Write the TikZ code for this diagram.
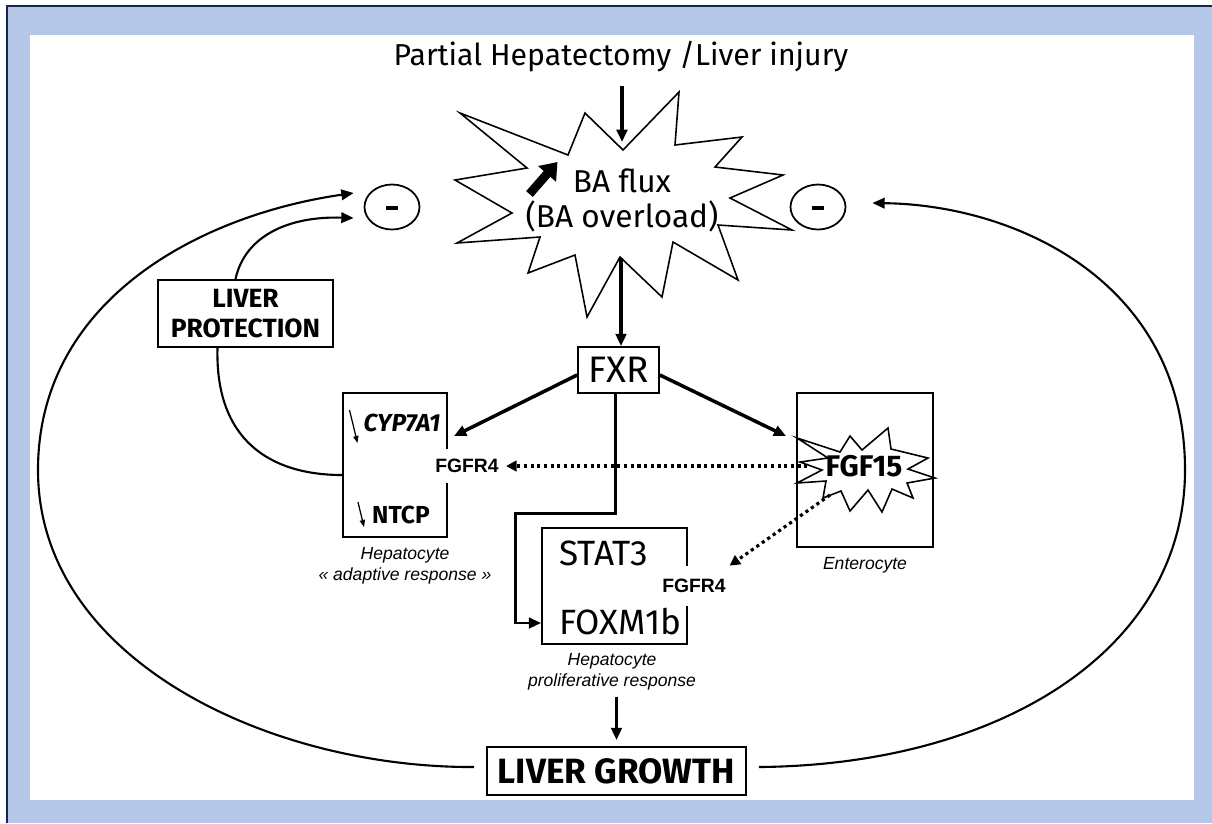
\documentclass[tikz,border=0pt]{standalone}
\usepackage{fontspec}
\setmainfont{Fira Sans}
\newfontfamily\arialf{Liberation Sans}
\usetikzlibrary{arrows.meta,calc,shapes.geometric}
\definecolor{frameblue}{RGB}{180,199,231}
\definecolor{navy}{RGB}{25,35,80}
\begin{document}
\begin{tikzpicture}[x=0.02cm,y=-0.02cm,
  conn/.style={line width=2pt,-{Triangle[length=7pt,width=6pt]}},
  box/.style={draw,line width=1pt,inner sep=0pt,fill=white},
  loopline/.style={line width=1.2pt},
  looparrow/.style={line width=1.2pt,-{Triangle[length=7pt,width=6pt]}},
  dotarrow/.style={line width=1.8pt,dash pattern=on 1.8pt off 2pt,-{Triangle[length=6pt,width=6pt]}},
  ital/.style={font=\arialf\itshape\fontsize{10}{12}\selectfont,align=center},
  recep/.style={font=\arialf\bfseries\fontsize{11}{13}\selectfont,fill=white,inner xsep=2pt},
  big/.style={font=\fontsize{20}{22}\selectfont},
  minus/.style={draw,ellipse,line width=1pt,minimum width=1.1cm,minimum height=0.9cm,inner sep=0pt},
  starline/.style={draw,line width=0.9pt,fill=white,line join=miter},
  dashbar/.style={line width=2.4pt}
  ]
\useasboundingbox (0,0) rectangle (1212,823);
% background frame
\fill[white] (0,0) rectangle (1212,823);
\fill[frameblue] (7,6) rectangle (1212,823);
\draw[navy,line width=1.5pt] (7,823) -- (7,6) -- (1212,6);
\fill[white] (30,35) rectangle (1194,800);

% title
\node[font=\fontsize{17.2}{20}\selectfont] (title) at (621,57) {Partial Hepatectomy /Liver injury};

% big star
\path[starline] (623,150) -- (679,92) -- (675,145) -- (742,137) -- (715,167) -- (783,175) -- (730,198) -- (792,230) -- (718,225) -- (738,280) -- (673,242) -- (662,297) -- (620,257) -- (587,317) -- (575,255) -- (528,273) -- (540,237) -- (457,243) -- (512,213) -- (455,180) -- (527,168) -- (460,113) -- (568,155) -- (585,113) -- cycle;
\node[align=center,font=\fontsize{18}{20}\selectfont] (ba) at (622,200) {BA flux\\(BA overload)};
\draw[line width=5pt,-{Triangle[length=9pt,width=13pt]}] ($(ba.west)+(10,-6)$) -- ($(ba.west)+(38,-38)$);
\coordinate (startop) at (622,142);
\coordinate (starbot) at (621,258);

% boxes
\node[box,font=\fontsize{21}{22}\selectfont,minimum width=1.62cm,minimum height=0.92cm] (fxr) at (618.5,370) {FXR};
\node[box,minimum width=2.08cm,minimum height=2.88cm] (hep) at (395,465) {};
\node[box,minimum width=2.72cm,minimum height=3.08cm] (ent) at (865,470) {};
\node[box,minimum width=2.9cm,minimum height=2.32cm] (prol) at (614.5,586) {};
\node[box,align=center,font=\bfseries\fontsize{15}{17}\selectfont,minimum width=3.5cm,minimum height=1.34cm] (lp) at (245.5,313.5) {LIVER\\PROTECTION};
\node[box,font=\bfseries\fontsize{20}{22}\selectfont,minimum width=5.18cm,minimum height=0.96cm] (lg) at (616.5,771) {LIVER GROWTH};

% minus circles
\node[minus] (mL) at (392,207) {};
\node[minus] (mR) at (818,207) {};
\draw[dashbar] ($(mL.center)+(-6,1)$) -- ($(mL.center)+(6,1)$);
\draw[dashbar] ($(mR.center)+(-6,1)$) -- ($(mR.center)+(6,1)$);

% FGF15 star
\path[starline] (797,438) -- (840,452) -- (850,436) -- (862,450) -- (888,428) -- (891,449) -- (928,458) -- (908,469) -- (935,478) -- (907,483) -- (913,498) -- (892,489) -- (882,512) -- (868,490) -- (850,511) -- (841,491) -- (823,498) -- (826,481) -- (797,483) -- (822,470) -- (800,462) -- (828,458) -- cycle;

% texts in boxes
\node[font=\bfseries\itshape\fontsize{14}{16}\selectfont] (cyp) at (402,423) {CYP7A1};
\node[font=\bfseries\fontsize{14}{16}\selectfont] (ntcp) at (401,515) {NTCP};
\draw[line width=0.7pt,-{Triangle[length=4pt,width=3pt]}] ($(cyp.west)+(-8,-13)$) -- ($(cyp.west)+(0,20)$);
\draw[line width=0.7pt,-{Triangle[length=4pt,width=3pt]}] ($(ntcp.west)+(-8,-13)$) -- ($(ntcp.west)+(-2,12)$);
\node[big,anchor=west] (stat) at (553,553) {STAT3};
\node[big,anchor=west] (fox) at (553,622) {FOXM1b};
\node[recep,inner ysep=6pt] (fr1) at (467,466) {FGFR4};
\node[recep,inner ysep=7.5pt] (fr2) at (694,586) {FGFR4};
\node[font=\bfseries\fontsize{17}{19}\selectfont] (fgf) at (864,466) {FGF15};
\coordinate (fgfout) at (830,495);

% labels
\node[ital] (heplab) at (405,566) {Hepatocyte\\« adaptive response »};
\node[ital] (entlab) at (865,565) {Enterocyte};
\node[ital] (prollab) at (612,672) {Hepatocyte\\proliferative response};

% connectors
\draw[conn,shorten <=4pt] (title.south -| startop) -- (startop);
\draw[conn] (starbot) -- (starbot |- fxr.north);
\draw[conn] ($(fxr.west)+(0,5)$) -- ($(hep.north east)+(6,44)$);
\draw[conn] ($(fxr.east)+(0,5)$) -- ($(ent.north west)+(-10,44)$);
\draw[conn,line width=1.6pt] ($(fxr.south)+(-3,0)$) -- ++(0,120) -- ++(-100,0) |- ($(prol.west)+(0,37)$);
\draw[dotarrow,shorten >=2pt] ($(fgf.west)+(-12,0)$) -- (fr1.east);
\draw[dotarrow] (fgfout) -- (fr2.north east);
\draw[conn] (lg.north |- prollab.south) -- ($(lg.north)+(0,-6)$);

% loops
\draw[looparrow] ($(lg.west)+(-12,-4)$) .. controls (270,768) and (38,660) .. (38,470) .. controls (38,300) and (200,215) .. ($(mL.west)+(-10,-14)$);
\draw[looparrow] ($(lp.north)+(-10,0)$) .. controls (245,235) and (290,216) .. ($(mL.west)+(-10,11)$);
\draw[loopline] ($(lp.south)+(-28,0)$) .. controls (215,440) and (270,475) .. ($(hep.west)+(0,10)$);
\draw[looparrow] ($(lg.east)+(12,-4)$) .. controls (1000,765) and (1185,650) .. (1185,470) .. controls (1185,285) and (1020,205) .. ($(mR.east)+(26,-4)$);
\end{tikzpicture}
\end{document}
